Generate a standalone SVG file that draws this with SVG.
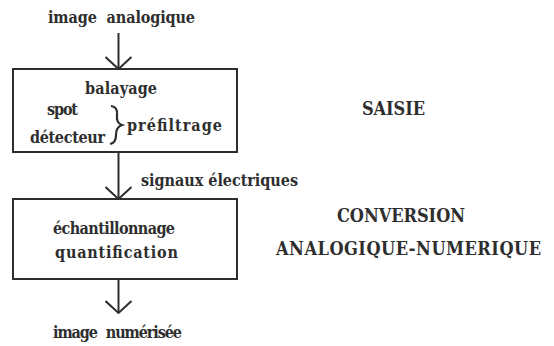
<svg xmlns="http://www.w3.org/2000/svg" width="554" height="346" viewBox="0 0 554 346">
<defs>
<style>
.t{font-family:'DejaVu Serif Condensed','DejaVu Serif',serif;font-weight:bold;fill:#2e2e2e;font-size:16px}
.cap{font-size:18px}
.box{fill:none;stroke:#2e2e2e;stroke-width:2}
.ln{fill:none;stroke:#2e2e2e;stroke-width:2}
</style>
<marker id="v" markerWidth="14" markerHeight="28" refX="13" refY="14" orient="auto" markerUnits="userSpaceOnUse" viewBox="0 0 14 28">
<path d="M1,1 L13,14 L1,27" fill="none" stroke="#2e2e2e" stroke-width="2"/>
</marker>
</defs>
<rect width="554" height="346" fill="#fff"/>
<g id="connectors">
<line class="ln" x1="118.5" y1="33" x2="118.5" y2="69" marker-end="url(#v)"/>
<line class="ln" x1="118.5" y1="153" x2="118.5" y2="199" marker-end="url(#v)"/>
<line class="ln" x1="118.5" y1="280" x2="118.5" y2="313" marker-end="url(#v)"/>
</g>
<g class="t">
<g id="input"><text x="48" y="23" textLength="147" lengthAdjust="spacing" word-spacing="5">image analogique</text></g>
<g id="saisie-box">
<rect class="box" x="13" y="69" width="224" height="83"/>
<text x="85" y="94" textLength="72" lengthAdjust="spacing">balayage</text>
<text x="47" y="115" textLength="31" lengthAdjust="spacing">spot</text>
<text x="30" y="143" textLength="75" lengthAdjust="spacing">détecteur</text>
<path d="M111,106 Q118,107 117,115 Q116,123 122,125 Q116,127 116,135 Q116,143 110,144" fill="none" stroke="#2e2e2e" stroke-width="2.2"/>
<text x="127" y="131" textLength="95" lengthAdjust="spacing">préfiltrage</text>
</g>
<g id="signal"><text x="141" y="186" textLength="157" lengthAdjust="spacing">signaux électriques</text></g>
<g id="conversion-box">
<rect class="box" x="13" y="199" width="224" height="80"/>
<text x="53" y="234" textLength="122" lengthAdjust="spacing">échantillonnage</text>
<text x="55" y="258" textLength="123" lengthAdjust="spacing">quantification</text>
</g>
<g id="output"><text x="53" y="338" textLength="129" lengthAdjust="spacing" word-spacing="5">image numérisée</text></g>
<g id="labels">
<text class="cap" x="362" y="115" textLength="63" lengthAdjust="spacing">SAISIE</text>
<text class="cap" x="337" y="222" textLength="128" lengthAdjust="spacing">CONVERSION</text>
<text class="cap" x="276" y="255" textLength="265" lengthAdjust="spacing">ANALOGIQUE-NUMERIQUE</text>
</g>
</g>
</svg>
